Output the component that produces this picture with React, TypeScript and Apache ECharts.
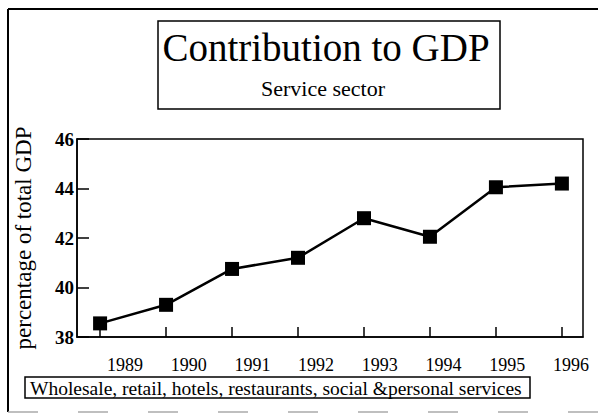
import React, { useEffect, useRef } from "react";
import * as echarts from "echarts";

const years = [1989, 1990, 1991, 1992, 1993, 1994, 1995, 1996];
const shares = [38.55, 39.3, 40.75, 41.2, 42.8, 42.05, 44.05, 44.2];
const yTicks = [38, 40, 42, 44, 46];
const titleText = "Contribution to GDP";
const subtitleText = "Service sector";
const yName = "percentage of total GDP";
const seriesName = "Wholesale, retail, hotels, restaurants, social &personal services";

const SERIF = '"Liberation Serif", "Times New Roman", serif';

export default function App() {
  const ref = useRef<HTMLDivElement>(null);
  useEffect(() => {
    if (!ref.current) return;
    const chart = echarts.init(ref.current, null, { renderer: "svg" });
    const data = years.map((y, i) => [y, shares[i]]);
    chart.setOption({
      animation: false,
      backgroundColor: "#fff",
      textStyle: { fontFamily: SERIF, color: "#000" },
      grid: {
        left: 77,
        top: 139,
        width: 506,
        height: 198,
        show: true,
        borderColor: "#000",
        borderWidth: 1.5,
        backgroundColor: "transparent",
      },
      xAxis: [
        {
          type: "value",
          position: "bottom",
          min: 1988.65,
          max: 1996.32,
          splitLine: { show: false },
          axisLine: { show: true, lineStyle: { color: "#000", width: 1.5 } },
          axisTick: {
            show: true,
            inside: true,
            length: 10,
            customValues: years,
            lineStyle: { color: "#000", width: 1.5 },
          },
          axisLabel: { show: false },
        },
        {
          type: "value",
          position: "bottom",
          min: 1988.2465,
          max: 1996.19,
          splitLine: { show: false },
          axisLine: { show: false },
          axisTick: { show: false },
          axisLabel: {
            show: true,
            customValues: years,
            margin: 19,
            fontSize: 18,
            fontFamily: SERIF,
            color: "#000",
            formatter: (v: number) => String(Math.round(v)),
          },
        },
      ],
      yAxis: {
        type: "value",
        min: yTicks[0],
        max: yTicks[yTicks.length - 1],
        interval: 2,
        name: yName,
        nameLocation: "middle",
        nameGap: 42,
        nameTextStyle: { fontSize: 23, fontFamily: SERIF, color: "#000" },
        splitLine: { show: false },
        axisLine: { show: true, lineStyle: { color: "#000", width: 1.5 } },
        axisTick: { show: true, inside: true, length: 12, lineStyle: { color: "#000", width: 1.5 } },
        axisLabel: {
          margin: 3,
          fontSize: 19,
          fontWeight: "bold",
          fontFamily: SERIF,
          color: "#000",
        },
      },
      series: [
        {
          name: seriesName,
          type: "line",
          xAxisIndex: 0,
          data,
          symbol: "rect",
          symbolSize: 14,
          lineStyle: { color: "#000", width: 2.5 },
          itemStyle: { color: "#000" },
        },
      ],
      graphic: [
        { type: "line", shape: { x1: 8, y1: 9, x2: 598, y2: 9 }, style: { stroke: "#000", lineWidth: 2 } },
        { type: "line", shape: { x1: 8, y1: 9, x2: 8, y2: 412 }, style: { stroke: "#000", lineWidth: 2 } },
        { type: "line", shape: { x1: 8, y1: 412, x2: 598, y2: 412 }, style: { stroke: "#aaa", lineWidth: 1.5, lineDash: [30, 40] } },
        { type: "rect", shape: { x: 158, y: 21, width: 342, height: 88 }, style: { fill: "#fff", stroke: "#000", lineWidth: 1.5 } },
        {
          type: "text",
          x: 326,
          y: 47,
          style: { text: titleText, fontSize: 39, fontFamily: SERIF, fill: "#000", align: "center", verticalAlign: "middle" },
        },
        {
          type: "text",
          x: 323,
          y: 88,
          style: { text: subtitleText, fontSize: 22, fontFamily: SERIF, fill: "#000", align: "center", verticalAlign: "middle" },
        },
        { type: "rect", shape: { x: 25, y: 377, width: 505, height: 21 }, style: { fill: "#fff", stroke: "#000", lineWidth: 1.5 } },
        {
          type: "text",
          x: 30,
          y: 388,
          style: { text: seriesName, fontSize: 19.5, fontFamily: SERIF, fill: "#000", align: "left", verticalAlign: "middle" },
        },
      ],
    });
    return () => chart.dispose();
  }, []);
  return (
    <div
      ref={ref}
      style={{ position: "fixed", left: 0, top: 0, width: 598, height: 415, background: "#fff" }}
    />
  );
}
